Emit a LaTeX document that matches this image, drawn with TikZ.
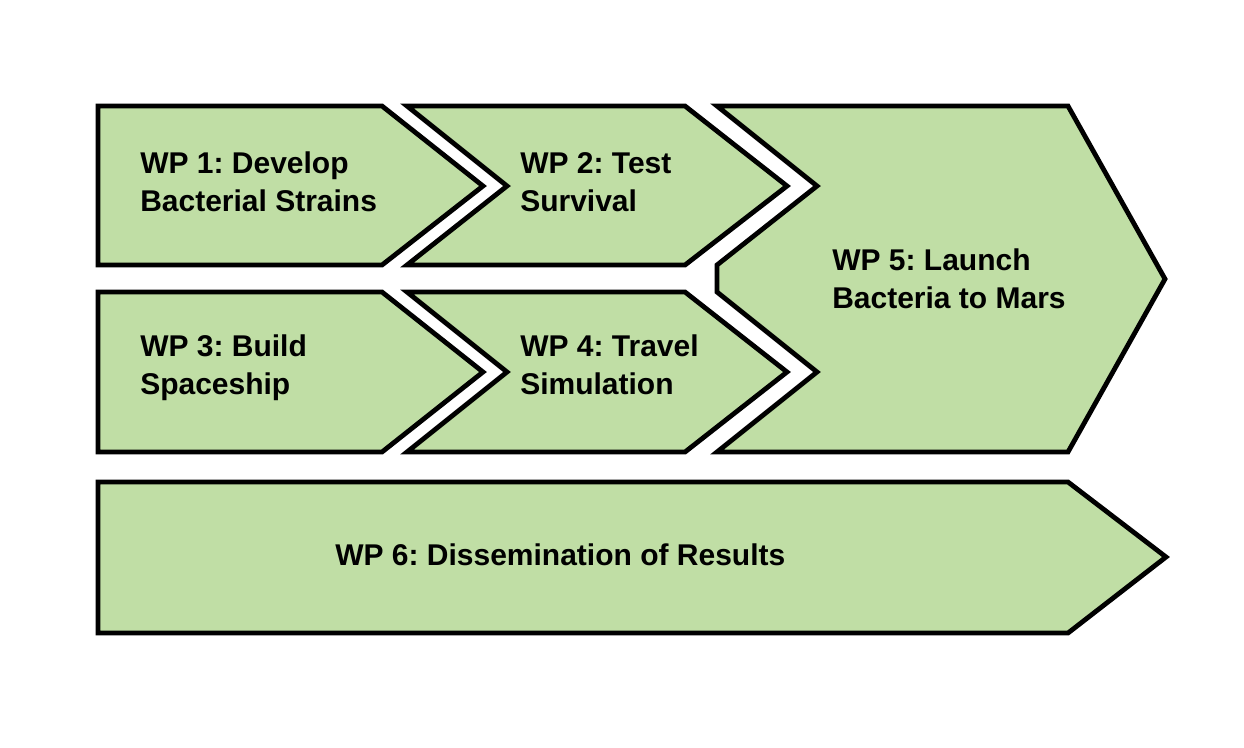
\documentclass[tikz,border=0pt]{standalone}
\usepackage{fontspec}
\setmainfont{Liberation Sans}
\frenchspacing
\definecolor{wpgreen}{HTML}{C0DEA5}
\tikzset{
  wpshape/.style={fill=wpgreen, draw=black, line width=3.6pt, line join=miter},
  wplabel/.style={anchor=base west, align=left, inner sep=0pt,
    font=\fontsize{22.5}{28.5}\selectfont\bfseries}
}
\begin{document}
\begin{tikzpicture}[x=0.75pt, y=-0.75pt]
        \useasboundingbox (0,0) rectangle (1244,747);

        % Define the shapes
        \filldraw[wpshape] (98,106) -- (382,106) -- (483,186) -- (382,265) -- (98,265) -- cycle;
        \filldraw[wpshape] (407,106) -- (685,106) -- (787,186) -- (685,265) -- (407,265) -- (507,186) -- cycle;
        \filldraw[wpshape] (98,292) -- (382,292) -- (483,372) -- (382,452) -- (98,452) -- cycle;
        \filldraw[wpshape] (407,292) -- (685,292) -- (787,372) -- (685,452) -- (407,452) -- (507,372) -- cycle;
        \filldraw[wpshape] (717,106) -- (1068,106) -- (1165,279) -- (1068,452) -- (717,452)
            -- (817,372) -- (717,292) -- (717,265) -- (817,186) -- cycle;
        \filldraw[wpshape] (98,482) -- (1068,482) -- (1166,557) -- (1068,633) -- (98,633) -- cycle;

        % Define the labels (base is the last line)
        \node[wplabel] (wp1) at (140,211) {WP 1: Develop\\Bacterial Strains};
        \node[wplabel] (wp2) at (520,211) {WP 2: Test\\Survival};
        \node[wplabel] (wp3) at (140,394) {WP 3: Build\\Spaceship};
        \node[wplabel] (wp4) at (520,394) {WP 4: Travel\\Simulation};
        \node[wplabel] (wp5) at (832,308) {WP 5: Launch\\Bacteria to Mars};
        \node[wplabel] (wp6) at (335,565) {WP 6: Dissemination of Results};
    \end{tikzpicture}
\end{document}
